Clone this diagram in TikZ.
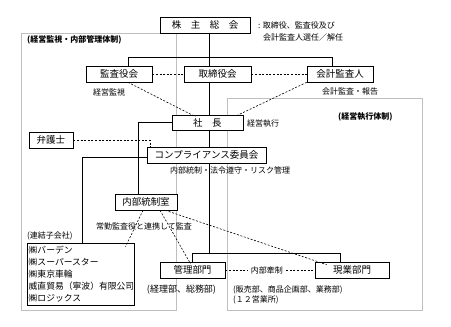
\documentclass[tikz,border=0pt]{standalone}
\usepackage{fontspec}
\setmainfont{Noto Sans CJK JP}
\begin{document}
\begin{tikzpicture}[x=1pt,y=-1pt,
  box/.style={draw, fill=white, line width=0.6pt, inner sep=0pt, minimum height=16pt, font=\fontsize{9.5}{10}\selectfont},
  lbl/.style={inner sep=0pt, anchor=west, font=\fontsize{8}{9}\selectfont},
  frm/.style={draw=black!25, line width=0.8pt},
  con/.style={line width=0.6pt},
  dsh/.style={line width=0.6pt, dash pattern=on 2pt off 1.6pt}]
\useasboundingbox (0,0) rectangle (451,327);
% frames
\draw[frm] (21,33) rectangle (176,310);
\draw[frm] (227,98) rectangle (422,310);
\node[lbl, font=\fontsize{8}{9}\selectfont\bfseries] (lframe) at (27,40) {(経営監視・内部管理体制)};
\node[lbl, font=\fontsize{8}{9}\selectfont\bfseries] (rframe) at (338,117) {(経営執行体制)};
% boxes
\node[box, minimum width=90pt] (kabu) at (205,25) {株　主　総　会};
\node[box, minimum width=66pt] (kansa) at (119,74) {監査役会};
\node[box, minimum width=67pt] (tori) at (217.5,74) {取締役会};
\node[box, minimum width=66pt] (kaikei) at (340,74) {会計監査人};
\node[box, minimum width=71pt, minimum height=15pt] (shacho) at (207.5,122.5) {社　長};
\node[box, minimum width=44pt] (bengo) at (51,140) {弁護士};
\node[box, minimum width=119pt] (comp) at (206.5,155) {コンプライアンス委員会};
\node[box, minimum width=62pt] (naibu) at (146,202) {内部統制室};
\node[box, minimum width=107pt, minimum height=62pt] (renketsu) at (80.5,274) {};
\node[inner sep=0pt, anchor=north west, align=left, font=\fontsize{8.8}{12}\selectfont] (rlist) at (28.5,246) {㈱バーデン\\㈱スーパースター\\㈱東京車輪\\威直貿易（寧波）有限公司\\㈱ロジックス};
\node[box, minimum width=65pt] (kanri) at (192.5,270) {管理部門};
\node[box, minimum width=74pt] (genko) at (352,270) {現業部門};
% labels
\node[lbl] (l1) at (258,25) {: 取締役、監査役及び};
\node[lbl] (l2) at (263,37) {会計監査人選任／解任};
\node[lbl] (l3) at (93,92) {経営監視};
\node[lbl] (l4) at (322,91) {会計監査・報告};
\node[lbl] (l5) at (247,124) {経営執行};
\node[lbl] (l6) at (170,170) {内部統制・法令遵守・リスク管理};
\node[lbl] (l7) at (96,226) {常勤監査役と連携して監査};
\node[lbl] (l8) at (27,236) {(連結子会社)};
\node[inner sep=0pt, font=\fontsize{9}{10}\selectfont] (l9) at (181.5,290) {(経理部、総務部)};
\node[inner sep=0pt, font=\fontsize{8}{9}\selectfont] (kensei) at (267,270) {内部牽制};
\node[lbl] (l10) at (233,290) {(販売部、商品企画部、業務部)};
\node[lbl] (l11) at (233,300) {(１２営業所)};
% coordinates
\coordinate (trunk) at (209,0);
\coordinate (topbus) at (0,57);
\coordinate (lowbus) at (0,253);
\coordinate (kl) at (128,0);
\coordinate (kr) at (332,0);
\coordinate (ml) at (192,0);
\coordinate (mr) at (340,0);
% solid connectors
\draw[con] (kabu.south -| trunk) -- (tori.north -| trunk);
\draw[con] (kansa.north -| kl) -- (kl |- topbus) -- (kr |- topbus) -- (kaikei.north -| kr);
\draw[con] (tori.south -| trunk) -- (shacho.north -| trunk);
\draw[con] (shacho.south -| trunk) -- (comp.north -| trunk);
\draw[con] (comp.south -| trunk) -- (trunk |- lowbus);
\draw[con] (kanri.north -| ml) -- (ml |- lowbus) -- (mr |- lowbus) -- (genko.north -| mr);
\coordinate (sx) at (138,0);
\draw[con] (shacho.west) -- (sx |- shacho.west) -- (naibu.north -| sx);
\coordinate (cx) at (82,0);
\coordinate (cw) at ([yshift=-2pt]comp.west);
\draw[con] (cw) -- (cx |- cw) -- (renketsu.north -| cx);
% dashed connectors
\draw[dsh] (kansa.east) -- (tori.west);
\draw[dsh] (tori.east) -- (kaikei.west);
\draw[dsh] (kansa.south -| kl) -- ([xshift=-12pt,yshift=-2pt]shacho.north);
\draw[dsh] (kaikei.south west) -- ([xshift=29pt,yshift=-1pt]shacho.north);
\coordinate (bx) at (150,0);
\draw[dsh] (bengo.east) -- (bx |- bengo.east) -- (comp.north -| bx);
\draw[dsh] ([xshift=-3pt]naibu.south) -- ([xshift=45pt,yshift=-4pt]renketsu.north);
\draw[dsh] ([xshift=14pt]naibu.south) -- ([xshift=-2pt,yshift=-2pt]kanri.north);
\draw[dsh] ([xshift=-12pt]naibu.south east) -- ([xshift=12pt,yshift=-3pt]genko.north west);
\draw[dsh] (kanri.east) -- ([xshift=-3pt]kensei.west);
\draw[dsh] ([xshift=3pt]kensei.east) -- (genko.west);
\end{tikzpicture}
\end{document}
